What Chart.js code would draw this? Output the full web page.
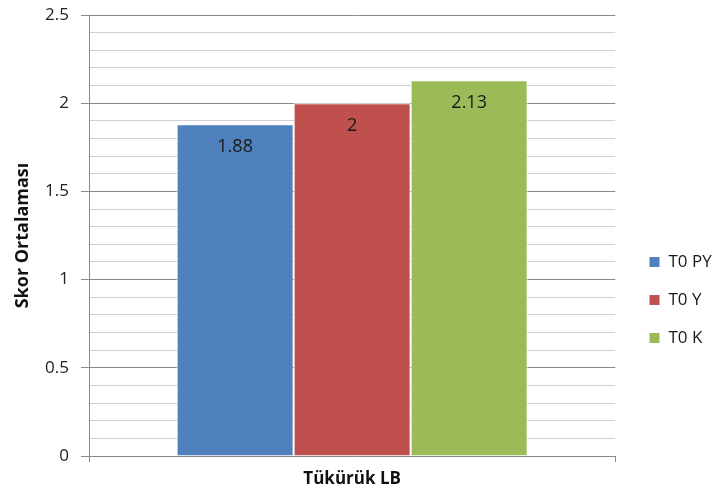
<!DOCTYPE html>
<html>
<head>
<meta charset="utf-8">
<script src="https://cdn.jsdelivr.net/npm/chart.js@4/dist/chart.umd.min.js"></script>
<style>
html,body{margin:0;padding:0;background:#fff;}
#wrap{width:717px;height:496px;}
</style>
</head>
<body>
<div id="wrap"><canvas id="c" width="717" height="496"></canvas></div>
<script>
const categories = ["Tükürük LB"];
const seriesNames = ["T0 PY", "T0 Y", "T0 K"];
const seriesValues = [[1.88], [2], [2.13]];
const valueLabels = ["1.88", "2", "2.13"];
const seriesColors = ["#4F81BD", "#C0504D", "#9BBB59"];
const yMin = 0, yMax = 2.5, yStep = 0.1;

const FONT = "'Open Sans', 'Liberation Sans', Arial, sans-serif";
const isMajor = v => Math.round(v * 10) % 5 === 0;

const valueLabelPlugin = {
  id: 'valueLabels',
  afterDatasetsDraw(chart) {
    const ctx = chart.ctx;
    ctx.save();
    ctx.font = "18px " + FONT;
    ctx.fillStyle = "#1a1a1a";
    ctx.textAlign = "center";
    ctx.textBaseline = "middle";
    chart.data.datasets.forEach((ds, i) => {
      const meta = chart.getDatasetMeta(i);
      meta.data.forEach(bar => {
        ctx.fillText(valueLabels[i], bar.x, bar.y + 23);
      });
    });
    ctx.restore();
  }
};

const legendShift = {
  id: 'legendShift',
  afterLayout(chart) {
    const lg = chart.legend;
    if (!lg) return;
    const w = lg.right - lg.left, h = lg.bottom - lg.top;
    lg.left = 628; lg.right = 628 + w;
    const mid = (lg.top + lg.bottom) / 2;
    lg.top += 300 - mid; lg.bottom = lg.top + h;
  }
};

new Chart(document.getElementById('c'), {
  type: 'bar',
  data: {
    labels: categories,
    datasets: seriesNames.map((n, i) => ({
      label: n,
      data: seriesValues[i],
      backgroundColor: seriesColors[i],
      borderColor: "#ffffff",
      borderWidth: 1,
      categoryPercentage: 0.667,
      barPercentage: 1.0
    }))
  },
  options: {
    responsive: false,
    animation: false,
    layout: { padding: { top: 15, left: 12, right: 8, bottom: 0 } },
    plugins: {
      tooltip: { enabled: false },
      legend: {
        position: 'right',
        labels: {
          boxWidth: 11, boxHeight: 11, padding: 21,
          color: "#1a1a1a",
          font: { family: FONT, size: 17 }
        }
      }
    },
    scales: {
      x: {
        afterFit(s) { s.height = 40; s.paddingLeft = 0; s.paddingRight = 0; },
        grid: { display: true, drawOnChartArea: false, offset: true, tickLength: 6, color: "#8a8a8a", lineWidth: 1 },
        border: { display: true, color: "#8a8a8a", width: 1 },
        ticks: { color: "#111", padding: 7, font: { family: FONT, size: 17, weight: 'bold' } }
      },
      y: {
        min: yMin, max: yMax,
        afterFit(s) { s.width = 77; s.paddingTop = 0; s.paddingBottom = 0; },
        afterBuildTicks(s) {
          const t = [];
          for (let k = 0; k <= 25; k++) t.push({ value: k / 10 });
          s.ticks = t;
        },
        ticks: {
          autoSkip: false,
          stepSize: yStep,
          padding: 12,
          color: "#222",
          font: { family: FONT, size: 17 },
          callback(v) { return isMajor(v) ? String(Math.round(v * 10) / 10) : ""; }
        },
        grid: {
          tickLength: 8,
          color: c => (c.tick && isMajor(c.tick.value)) ? "#8a8a8a" : "#d0d0d0",
          tickColor: c => (c.tick && isMajor(c.tick.value)) ? "#8a8a8a" : "rgba(0,0,0,0)",
          lineWidth: 1
        },
        border: { display: true, color: "#8a8a8a", width: 1 },
        title: {
          display: true, text: "Skor Ortalaması", color: "#111", padding: { top: 0, bottom: 0 },
          font: { family: FONT, size: 18, weight: 'bold' }
        }
      }
    }
  },
  plugins: [valueLabelPlugin, legendShift]
});
</script>
</body>
</html>
